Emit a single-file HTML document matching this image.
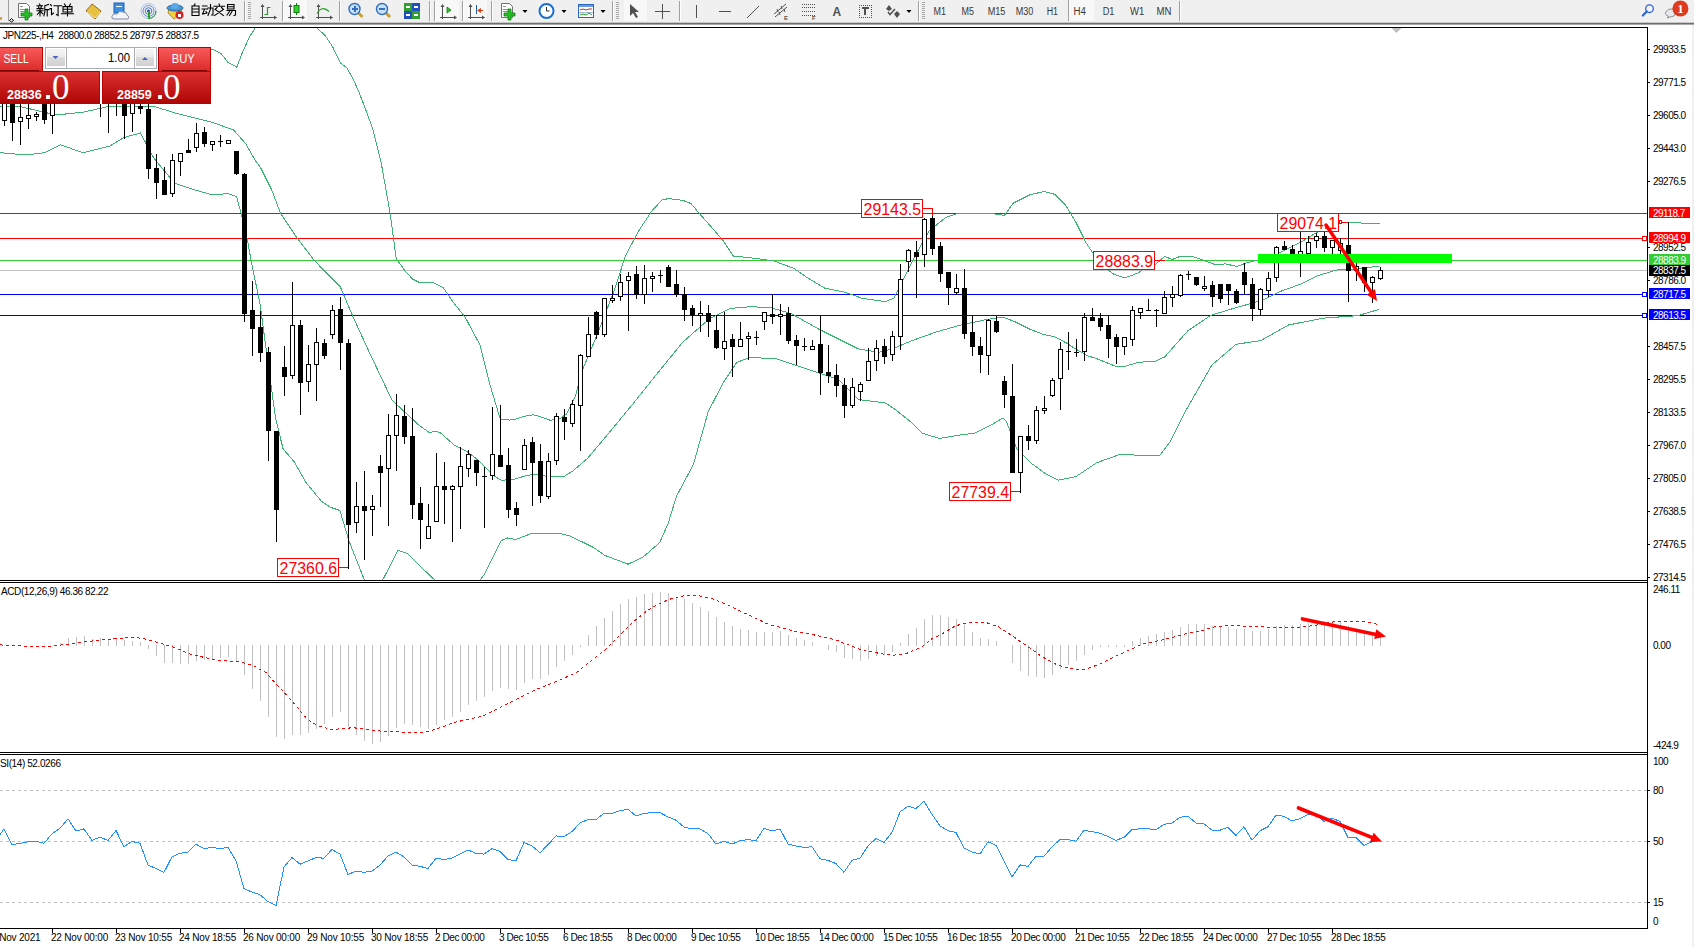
<!DOCTYPE html>
<html><head><meta charset="utf-8">
<style>
html,body{margin:0;padding:0;background:#fff;width:1694px;height:947px;overflow:hidden}
svg{position:absolute;left:0;top:0;display:block}
.ax{font-family:"Liberation Sans", sans-serif;font-size:10px;letter-spacing:-0.5px}
.tm{font-family:"Liberation Sans", sans-serif;font-size:10px;letter-spacing:-0.2px}
.tt{font-family:"Liberation Sans", sans-serif;font-size:10px;letter-spacing:-0.4px}
.lb{font-family:"Liberation Sans", sans-serif;font-size:17px;fill:#ff0000}
.pt{font-family:"Liberation Sans", sans-serif;font-size:13px;fill:#000}
.hd{font-family:"Liberation Sans", sans-serif;font-size:13px;fill:#fff}
.bp{font-family:"Liberation Sans", sans-serif;font-size:12.5px;font-weight:bold;fill:#fff}
.bz{font-family:"Liberation Serif",serif;font-size:35px;fill:#fff}
</style></head><body>
<svg width="1694" height="947" viewBox="0 0 1694 947" shape-rendering="crispEdges">
<defs>
<clipPath id="cm"><rect x="0" y="28" width="1647" height="552"/></clipPath>
<clipPath id="cmacd"><rect x="0" y="583" width="1647" height="169"/></clipPath>
<clipPath id="crsi"><rect x="0" y="755" width="1647" height="173"/></clipPath>
</defs>
<rect x="0" y="0" width="1694" height="23" fill="#f0f0f0"/>
<rect x="0" y="22" width="1694" height="1" fill="#c8c8c8"/>
<rect x="0" y="23" width="1694" height="1" fill="#6e6e6e"/>
<rect x="0" y="24" width="1694" height="1" fill="#a8a8a8"/>
<rect x="0" y="17" width="2" height="3" fill="#e0a040"/>
<rect x="8" y="0" width="1" height="21" fill="#a0a0a0"/>
<polygon points="11.5,18.5 13.5,20.5 11.5,22 9.5,20.5" fill="none" stroke="#000" stroke-width="1" shape-rendering="auto"/>
<path d="M18.5,3.5 h8 l3,3 v11 h-11 z" fill="#fff" stroke="#707070" stroke-width="1" shape-rendering="auto"/>
<rect x="20" y="6" width="3" height="1" fill="#909090"/>
<rect x="20" y="9" width="6" height="1" fill="#909090"/>
<rect x="20" y="11" width="5" height="1" fill="#909090"/>
<path d="M25,9 h3 v4 h4 v3 h-4 v4 h-3 v-4 h-4 v-3 h4 z" fill="#22c022" stroke="#108010" stroke-width="0.8" shape-rendering="auto"/>
<path d="M39.5,4 L40,5 M37,5.8 L42.5,5.8 M38.5,6.8 L39,8 M41.3,6.8 L40.8,8 M37,8.6 L43,8.6 M37,10.8 L43,10.8 M40,8.8 L40,16 M40,11.5 L37.3,14.5 M40.5,11.5 L42.8,13.8 M48.5,4.4 L44.8,5.8 M44.8,5.8 L44.8,12 M44.8,12 L43.8,15.8 M44.8,9.6 L49,9.6 M47.2,9.6 L47.2,16" stroke="#000" stroke-width="1.1" fill="none" shape-rendering="auto" stroke-linecap="square"/>
<path d="M50.5,4.6 L51.5,5.8 M49.9,8.6 L51.5,8.6 M51.5,8.6 L51.5,14.8 M51.5,14.8 L53.5,13 M54.0,5.8 L61.5,5.8 M58.1,5.8 L58.1,15.6 M58.1,15.6 L56.5,14.6" stroke="#000" stroke-width="1.1" fill="none" shape-rendering="auto" stroke-linecap="square"/>
<path d="M64.5,4 L65.5,5.6 M70.5,4 L69.5,5.6 M63.0,6.6 L72.0,6.6 M63.0,6.6 L63.0,12 M72.0,6.6 L72.0,12 M63.0,9.2 L72.0,9.2 M63.0,12 L72.0,12 M67.5,6.6 L67.5,16 M61.5,13.8 L73.5,13.8" stroke="#000" stroke-width="1.1" fill="none" shape-rendering="auto" stroke-linecap="square"/>
<path d="M86,11 L92,4 L101,11 L95,19 Z" fill="#e8c040" stroke="#a06818" stroke-width="1" shape-rendering="auto"/>
<path d="M87,12 L95,18 L100,12" fill="none" stroke="#fff0a0" stroke-width="1" shape-rendering="auto"/>
<rect x="114" y="3" width="10" height="10" fill="#3c8ee0" stroke="#1c5eb0" stroke-width="1" shape-rendering="auto"/>
<rect x="116" y="6" width="6" height="1" fill="#fff"/>
<path d="M114,19 Q111,19 112,16 Q113,13 117,14 Q119,10 123,12 Q127,12 127,15 Q130,16 128,19 Z" fill="#f4f4f8" stroke="#8090a8" stroke-width="1" shape-rendering="auto"/>
<circle cx="148.5" cy="11" r="7.5" fill="none" stroke="#a8c0e8" stroke-width="1" shape-rendering="auto"/>
<circle cx="148.5" cy="11" r="5.5" fill="none" stroke="#6890d8" stroke-width="1" shape-rendering="auto"/>
<circle cx="148.5" cy="11" r="3.3" fill="none" stroke="#4878d0" stroke-width="1" shape-rendering="auto"/>
<path d="M148.5,18.5 A7.5,7.5 0 0 0 156,11" fill="none" stroke="#40a040" stroke-width="1.2" shape-rendering="auto"/>
<circle cx="148.5" cy="11" r="1.6" fill="#2050c0" shape-rendering="auto"/>
<rect x="148" y="11" width="2" height="8" fill="#30a030"/>
<path d="M168,13 L174,19 L182,13 L181,9 L169,9 Z" fill="#f0d040" stroke="#b09020" stroke-width="1" shape-rendering="auto"/>
<ellipse cx="175" cy="8" rx="8" ry="3" fill="#4a98d8" stroke="#2a6aa8" stroke-width="1" shape-rendering="auto"/>
<ellipse cx="175" cy="6" rx="4" ry="3" fill="#5aa8e8" shape-rendering="auto"/>
<circle cx="179.5" cy="15" r="4" fill="#d82020" shape-rendering="auto"/>
<rect x="178" y="13.5" width="3" height="3" fill="#fff"/>
<path d="M195,4 L194,5.6 M192,6 L199,6 M192,6 L192,15.5 M199,6 L199,15.5 M192,9 L199,9 M192,12 L199,12 M192,15.5 L199,15.5" stroke="#000" stroke-width="1.1" fill="none" shape-rendering="auto" stroke-linecap="square"/>
<path d="M202.5,6 L207,6 M202,9 L207.5,9 M204.6,9 L202.6,14 M202.6,14 L207,13 M206,11.5 L206.8,12.8 M208,8 L213,8 M213,8 L213,15 M213,15 L211.6,15 M210.5,4.5 L210.5,9 M210.5,9 L208,15.5" stroke="#000" stroke-width="1.1" fill="none" shape-rendering="auto" stroke-linecap="square"/>
<path d="M219.0,4 L219.5,5.4 M214.0,6.2 L224.5,6.2 M217.0,7.5 L215.0,9.5 M221.5,7.5 L223.5,9.5 M216.0,10 L223.5,15.6 M222.5,10 L214.5,15.6" stroke="#000" stroke-width="1.1" fill="none" shape-rendering="auto" stroke-linecap="square"/>
<path d="M227.5,4.5 L234,4.5 M227.5,4.5 L227.5,9 M234,4.5 L234,9 M227.5,6.8 L234,6.8 M227.5,9 L234,9 M227,10.5 L235.5,10.5 M235.5,10.5 L235.5,15 M235.5,15 L234,15.5 M229.5,11.5 L227,15 M232,11.5 L229.5,15.5" stroke="#000" stroke-width="1.1" fill="none" shape-rendering="auto" stroke-linecap="square"/>
<rect x="244" y="1" width="1" height="20" fill="#a0a0a0"/>
<rect x="245" y="1" width="1" height="20" fill="#ffffff"/>
<rect x="248" y="2" width="3" height="1" fill="#a8a8a8"/>
<rect x="248" y="4" width="3" height="1" fill="#a8a8a8"/>
<rect x="248" y="6" width="3" height="1" fill="#a8a8a8"/>
<rect x="248" y="8" width="3" height="1" fill="#a8a8a8"/>
<rect x="248" y="10" width="3" height="1" fill="#a8a8a8"/>
<rect x="248" y="12" width="3" height="1" fill="#a8a8a8"/>
<rect x="248" y="14" width="3" height="1" fill="#a8a8a8"/>
<rect x="248" y="16" width="3" height="1" fill="#a8a8a8"/>
<rect x="248" y="18" width="3" height="1" fill="#a8a8a8"/>
<rect x="262" y="5" width="1" height="14" fill="#505050"/>
<rect x="260" y="17" width="15" height="1" fill="#505050"/>
<polygon points="260.5,7 264.5,7 262.5,4" fill="#505050" shape-rendering="auto"/>
<polygon points="274,15.5 274,19.5 277,17.5" fill="#505050" shape-rendering="auto"/>
<path d="M264.5,14.5 H267.5 V7.5 H270.5" fill="none" stroke="#20a020" stroke-width="1.2" shape-rendering="auto"/>
<rect x="282" y="1" width="1" height="20" fill="#a0a0a0"/>
<rect x="283" y="1" width="1" height="20" fill="#ffffff"/>
<rect x="284" y="0" width="23" height="21" fill="#f8f8f8"/>
<rect x="290" y="5" width="1" height="14" fill="#505050"/>
<rect x="288" y="17" width="15" height="1" fill="#505050"/>
<polygon points="288.5,7 292.5,7 290.5,4" fill="#505050" shape-rendering="auto"/>
<polygon points="302,15.5 302,19.5 305,17.5" fill="#505050" shape-rendering="auto"/>
<rect x="296" y="3" width="1" height="12" fill="#108010"/>
<rect x="294" y="5.5" width="5" height="7" fill="#30d030" stroke="#108010" stroke-width="1" shape-rendering="auto"/>
<rect x="318" y="5" width="1" height="14" fill="#505050"/>
<rect x="316" y="17" width="15" height="1" fill="#505050"/>
<polygon points="316.5,7 320.5,7 318.5,4" fill="#505050" shape-rendering="auto"/>
<polygon points="330,15.5 330,19.5 333,17.5" fill="#505050" shape-rendering="auto"/>
<path d="M317,13.5 Q322,5 329,11.5" fill="none" stroke="#20a020" stroke-width="1.2" shape-rendering="auto"/>
<rect x="339" y="1" width="1" height="20" fill="#a0a0a0"/>
<rect x="340" y="1" width="1" height="20" fill="#ffffff"/>
<path d="M357.5,12 L362.5,17" stroke="#c8a030" stroke-width="3" shape-rendering="auto"/>
<circle cx="354.5" cy="9" r="5.5" fill="#c8e0f8" stroke="#3070c0" stroke-width="1.4" shape-rendering="auto"/>
<rect x="351.5" y="8" width="6" height="2" fill="#3070c0"/>
<rect x="353.5" y="6" width="2" height="6" fill="#3070c0"/>
<path d="M385,12 L390,17" stroke="#c8a030" stroke-width="3" shape-rendering="auto"/>
<circle cx="382" cy="9" r="5.5" fill="#c8e0f8" stroke="#3070c0" stroke-width="1.4" shape-rendering="auto"/>
<rect x="379" y="8" width="6" height="2" fill="#3070c0"/>
<rect x="404" y="3" width="8" height="8" fill="#30a030"/>
<rect x="406" y="6" width="4" height="2" fill="#fff"/>
<rect x="412" y="3" width="8" height="8" fill="#2050c0"/>
<rect x="414" y="6" width="4" height="2" fill="#fff"/>
<rect x="404" y="11" width="8" height="8" fill="#2050c0"/>
<rect x="406" y="14" width="4" height="2" fill="#fff"/>
<rect x="412" y="11" width="8" height="8" fill="#30a030"/>
<rect x="414" y="14" width="4" height="2" fill="#fff"/>
<rect x="429" y="1" width="1" height="20" fill="#a0a0a0"/>
<rect x="430" y="1" width="1" height="20" fill="#ffffff"/>
<rect x="434" y="1" width="1" height="20" fill="#a0a0a0"/>
<rect x="435" y="1" width="1" height="20" fill="#ffffff"/>
<rect x="436" y="0" width="23" height="21" fill="#f8f8f8"/>
<rect x="442" y="5" width="1" height="14" fill="#505050"/>
<rect x="440" y="17" width="15" height="1" fill="#505050"/>
<polygon points="440.5,7 444.5,7 442.5,4" fill="#505050" shape-rendering="auto"/>
<polygon points="454,15.5 454,19.5 457,17.5" fill="#505050" shape-rendering="auto"/>
<polygon points="447,7 447,13 451,10" fill="#30c030" stroke="#108010" stroke-width="0.8" shape-rendering="auto"/>
<rect x="462" y="1" width="1" height="20" fill="#a0a0a0"/>
<rect x="463" y="1" width="1" height="20" fill="#ffffff"/>
<rect x="464" y="0" width="23" height="21" fill="#f8f8f8"/>
<rect x="470" y="5" width="1" height="14" fill="#505050"/>
<rect x="468" y="17" width="15" height="1" fill="#505050"/>
<polygon points="468.5,7 472.5,7 470.5,4" fill="#505050" shape-rendering="auto"/>
<polygon points="482,15.5 482,19.5 485,17.5" fill="#505050" shape-rendering="auto"/>
<rect x="476" y="5" width="1" height="9" fill="#2060b0"/>
<polygon points="477,10.5 481,8 481,13" fill="#e04010" shape-rendering="auto"/>
<rect x="480" y="10" width="3" height="1" fill="#e04010"/>
<rect x="491" y="1" width="1" height="20" fill="#a0a0a0"/>
<rect x="492" y="1" width="1" height="20" fill="#ffffff"/>
<path d="M501.5,3.5 h8 l3,3 v11 h-11 z" fill="#fff" stroke="#707070" stroke-width="1" shape-rendering="auto"/>
<rect x="503" y="6" width="3" height="1" fill="#909090"/>
<rect x="503" y="9" width="6" height="1" fill="#909090"/>
<rect x="503" y="11" width="5" height="1" fill="#909090"/>
<path d="M508,9 h3 v4 h4 v3 h-4 v4 h-3 v-4 h-4 v-3 h4 z" fill="#22c022" stroke="#108010" stroke-width="0.8" shape-rendering="auto"/>
<polygon points="522.5,10 527.5,10 525,13" fill="#000" shape-rendering="auto"/>
<circle cx="546.5" cy="11" r="7" fill="#fff" stroke="#1a70d0" stroke-width="2" shape-rendering="auto"/>
<path d="M546.5,7 V11 H549.5" fill="none" stroke="#303030" stroke-width="1" shape-rendering="auto"/>
<polygon points="561.5,10 566.5,10 564,13" fill="#000" shape-rendering="auto"/>
<rect x="578.5" y="4.5" width="15" height="13" fill="#fff" stroke="#2a68c0" stroke-width="1" shape-rendering="auto"/>
<rect x="579" y="5" width="14" height="2" fill="#6a9ad8"/>
<path d="M580,10 L583,9 L586,10 L589,9 L592,9" fill="none" stroke="#c03020" stroke-width="1" shape-rendering="auto"/>
<rect x="579" y="12" width="14" height="1" fill="#a0b8e0"/>
<path d="M580,15 L583,14 L586,15 L589,13 L592,15" fill="none" stroke="#20a020" stroke-width="1" shape-rendering="auto"/>
<polygon points="600.5,10 605.5,10 603,13" fill="#000" shape-rendering="auto"/>
<rect x="612" y="1" width="1" height="20" fill="#a0a0a0"/>
<rect x="613" y="1" width="1" height="20" fill="#ffffff"/>
<rect x="616" y="2" width="3" height="1" fill="#a8a8a8"/>
<rect x="616" y="4" width="3" height="1" fill="#a8a8a8"/>
<rect x="616" y="6" width="3" height="1" fill="#a8a8a8"/>
<rect x="616" y="8" width="3" height="1" fill="#a8a8a8"/>
<rect x="616" y="10" width="3" height="1" fill="#a8a8a8"/>
<rect x="616" y="12" width="3" height="1" fill="#a8a8a8"/>
<rect x="616" y="14" width="3" height="1" fill="#a8a8a8"/>
<rect x="616" y="16" width="3" height="1" fill="#a8a8a8"/>
<rect x="616" y="18" width="3" height="1" fill="#a8a8a8"/>
<rect x="624" y="0" width="23" height="21" fill="#f8f8f8"/>
<path d="M630,4 L630,16 L633,13 L636,18 L638,17 L635,12 L639,12 Z" fill="#505050" shape-rendering="auto"/>
<rect x="655" y="11" width="15" height="1" fill="#505050"/>
<rect x="662" y="4" width="1" height="15" fill="#505050"/>
<rect x="679" y="1" width="1" height="20" fill="#a0a0a0"/>
<rect x="680" y="1" width="1" height="20" fill="#ffffff"/>
<rect x="696" y="5" width="1" height="13" fill="#505050"/>
<rect x="719" y="11" width="12" height="1" fill="#505050"/>
<path d="M747,18 L759,6" stroke="#505050" stroke-width="1" shape-rendering="auto"/>
<path d="M774,14 L786,4 M775,17 L787,7 M777,9 L778,12 M781,6 L782,9 M779,12 L780,15 M784,9 L785,12" stroke="#505050" stroke-width="1" fill="none" shape-rendering="auto"/>
<text x="784" y="19.5" style="font-family:Liberation Sans,sans-serif;font-size:6px;font-weight:bold;fill:#505050">E</text>
<rect x="802" y="4" width="1" height="1" fill="#505050"/>
<rect x="804" y="4" width="1" height="1" fill="#505050"/>
<rect x="806" y="4" width="1" height="1" fill="#505050"/>
<rect x="808" y="4" width="1" height="1" fill="#505050"/>
<rect x="810" y="4" width="1" height="1" fill="#505050"/>
<rect x="812" y="4" width="1" height="1" fill="#505050"/>
<rect x="814" y="4" width="1" height="1" fill="#505050"/>
<rect x="802" y="7" width="1" height="1" fill="#505050"/>
<rect x="804" y="7" width="1" height="1" fill="#505050"/>
<rect x="806" y="7" width="1" height="1" fill="#505050"/>
<rect x="808" y="7" width="1" height="1" fill="#505050"/>
<rect x="810" y="7" width="1" height="1" fill="#505050"/>
<rect x="812" y="7" width="1" height="1" fill="#505050"/>
<rect x="814" y="7" width="1" height="1" fill="#505050"/>
<rect x="802" y="11" width="1" height="1" fill="#505050"/>
<rect x="804" y="11" width="1" height="1" fill="#505050"/>
<rect x="806" y="11" width="1" height="1" fill="#505050"/>
<rect x="808" y="11" width="1" height="1" fill="#505050"/>
<rect x="810" y="11" width="1" height="1" fill="#505050"/>
<rect x="812" y="11" width="1" height="1" fill="#505050"/>
<rect x="814" y="11" width="1" height="1" fill="#505050"/>
<rect x="802" y="15" width="1" height="1" fill="#505050"/>
<rect x="804" y="15" width="1" height="1" fill="#505050"/>
<rect x="806" y="15" width="1" height="1" fill="#505050"/>
<rect x="808" y="15" width="1" height="1" fill="#505050"/>
<rect x="810" y="15" width="1" height="1" fill="#505050"/>
<rect x="812" y="15" width="1" height="1" fill="#505050"/>
<rect x="814" y="15" width="1" height="1" fill="#505050"/>
<text x="812" y="20" style="font-family:Liberation Sans,sans-serif;font-size:6px;font-weight:bold;fill:#505050">F</text>
<text x="832.5" y="16" style="font-family:Liberation Sans,sans-serif;font-size:12px;font-weight:bold;fill:#505050">A</text>
<rect x="859" y="5" width="1" height="1" fill="#505050"/><rect x="859" y="17" width="1" height="1" fill="#505050"/>
<rect x="861" y="5" width="1" height="1" fill="#505050"/><rect x="861" y="17" width="1" height="1" fill="#505050"/>
<rect x="863" y="5" width="1" height="1" fill="#505050"/><rect x="863" y="17" width="1" height="1" fill="#505050"/>
<rect x="865" y="5" width="1" height="1" fill="#505050"/><rect x="865" y="17" width="1" height="1" fill="#505050"/>
<rect x="867" y="5" width="1" height="1" fill="#505050"/><rect x="867" y="17" width="1" height="1" fill="#505050"/>
<rect x="869" y="5" width="1" height="1" fill="#505050"/><rect x="869" y="17" width="1" height="1" fill="#505050"/>
<rect x="871" y="5" width="1" height="1" fill="#505050"/><rect x="871" y="17" width="1" height="1" fill="#505050"/>
<rect x="859" y="5" width="1" height="1" fill="#505050"/><rect x="871" y="5" width="1" height="1" fill="#505050"/>
<rect x="859" y="7" width="1" height="1" fill="#505050"/><rect x="871" y="7" width="1" height="1" fill="#505050"/>
<rect x="859" y="9" width="1" height="1" fill="#505050"/><rect x="871" y="9" width="1" height="1" fill="#505050"/>
<rect x="859" y="11" width="1" height="1" fill="#505050"/><rect x="871" y="11" width="1" height="1" fill="#505050"/>
<rect x="859" y="13" width="1" height="1" fill="#505050"/><rect x="871" y="13" width="1" height="1" fill="#505050"/>
<rect x="859" y="15" width="1" height="1" fill="#505050"/><rect x="871" y="15" width="1" height="1" fill="#505050"/>
<rect x="859" y="17" width="1" height="1" fill="#505050"/><rect x="871" y="17" width="1" height="1" fill="#505050"/>
<rect x="862" y="7" width="7" height="2" fill="#505050"/><rect x="864" y="7" width="2" height="8" fill="#505050"/>
<polygon points="886,9 889,5 892,9 889,11" fill="#505050" shape-rendering="auto"/>
<path d="M888,12 L890,14.5 L895,9" stroke="#505050" stroke-width="1.5" fill="none" shape-rendering="auto"/>
<polygon points="894,14 897,11 900,14 897,18" fill="#505050" shape-rendering="auto"/>
<polygon points="906.5,10 911.5,10 909,13" fill="#000" shape-rendering="auto"/>
<rect x="918" y="1" width="1" height="20" fill="#a0a0a0"/>
<rect x="919" y="1" width="1" height="20" fill="#ffffff"/>
<rect x="922" y="2" width="3" height="1" fill="#a8a8a8"/>
<rect x="922" y="4" width="3" height="1" fill="#a8a8a8"/>
<rect x="922" y="6" width="3" height="1" fill="#a8a8a8"/>
<rect x="922" y="8" width="3" height="1" fill="#a8a8a8"/>
<rect x="922" y="10" width="3" height="1" fill="#a8a8a8"/>
<rect x="922" y="12" width="3" height="1" fill="#a8a8a8"/>
<rect x="922" y="14" width="3" height="1" fill="#a8a8a8"/>
<rect x="922" y="16" width="3" height="1" fill="#a8a8a8"/>
<rect x="922" y="18" width="3" height="1" fill="#a8a8a8"/>
<text x="933.5" y="15" textLength="12.5" lengthAdjust="spacingAndGlyphs" style="font-family:Liberation Sans,sans-serif;font-size:10px;fill:#383838">M1</text>
<text x="961.5" y="15" textLength="12.5" lengthAdjust="spacingAndGlyphs" style="font-family:Liberation Sans,sans-serif;font-size:10px;fill:#383838">M5</text>
<text x="987.7" y="15" textLength="17.7" lengthAdjust="spacingAndGlyphs" style="font-family:Liberation Sans,sans-serif;font-size:10px;fill:#383838">M15</text>
<text x="1015.7" y="15" textLength="17.6" lengthAdjust="spacingAndGlyphs" style="font-family:Liberation Sans,sans-serif;font-size:10px;fill:#383838">M30</text>
<text x="1046.7" y="15" textLength="11.4" lengthAdjust="spacingAndGlyphs" style="font-family:Liberation Sans,sans-serif;font-size:10px;fill:#383838">H1</text>
<rect x="1068" y="0" width="1" height="21" fill="#a0a0a0"/>
<rect x="1069" y="0" width="25" height="21" fill="#f8f8f8"/>
<text x="1073.6" y="15" textLength="12.4" lengthAdjust="spacingAndGlyphs" style="font-family:Liberation Sans,sans-serif;font-size:10px;fill:#383838">H4</text>
<text x="1102.7" y="15" textLength="11.8" lengthAdjust="spacingAndGlyphs" style="font-family:Liberation Sans,sans-serif;font-size:10px;fill:#383838">D1</text>
<text x="1130" y="15" textLength="14.2" lengthAdjust="spacingAndGlyphs" style="font-family:Liberation Sans,sans-serif;font-size:10px;fill:#383838">W1</text>
<text x="1156.6" y="15" textLength="14.9" lengthAdjust="spacingAndGlyphs" style="font-family:Liberation Sans,sans-serif;font-size:10px;fill:#383838">MN</text>
<rect x="1179" y="1" width="1" height="20" fill="#a0a0a0"/>
<rect x="1180" y="1" width="1" height="20" fill="#ffffff"/>
<circle cx="1649.5" cy="8.7" r="3.8" fill="#f4f4ff" stroke="#2a62d0" stroke-width="1.3" shape-rendering="auto"/>
<path d="M1646.8,11.5 L1642.8,15.5" stroke="#2a62d0" stroke-width="2.2" stroke-linecap="round" shape-rendering="auto"/>
<path d="M1667,18 L1669,16.5 Q1664,15 1666,11.5 Q1668,8.5 1672,9 Q1676,9.5 1676,13 Q1675,17 1670,17 Z" fill="#e8e8f0" stroke="#909090" stroke-width="1" shape-rendering="auto"/>
<circle cx="1680.4" cy="8.5" r="8" fill="#e03a1e" shape-rendering="auto"/>
<text x="1680.4" y="13" text-anchor="middle" style="font-family:Liberation Serif,serif;font-size:12px;font-weight:bold;fill:#fff">1</text>
<rect x="0" y="27" width="1648" height="1" fill="#000"/>
<rect x="1647" y="27" width="1" height="902" fill="#000"/>
<rect x="0" y="580" width="1648" height="1" fill="#000"/>
<rect x="0" y="582" width="1648" height="1" fill="#000"/>
<rect x="0" y="752" width="1648" height="1" fill="#000"/>
<rect x="0" y="754" width="1648" height="1" fill="#000"/>
<rect x="0" y="928" width="1648" height="1" fill="#000"/>
<rect x="1692" y="25" width="2" height="922" fill="#f0f0f0"/>
<polygon points="1392,28 1401,28 1396.5,33" fill="#c0c0c0"/>
<rect x="1648" y="49" width="2" height="1" fill="#000"/>
<text x="1653" y="53" class="ax">29933.5</text>
<rect x="1648" y="82" width="2" height="1" fill="#000"/>
<text x="1653" y="86" class="ax">29771.5</text>
<rect x="1648" y="115" width="2" height="1" fill="#000"/>
<text x="1653" y="119" class="ax">29605.0</text>
<rect x="1648" y="148" width="2" height="1" fill="#000"/>
<text x="1653" y="152" class="ax">29443.0</text>
<rect x="1648" y="181" width="2" height="1" fill="#000"/>
<text x="1653" y="185" class="ax">29276.5</text>
<rect x="1648" y="247" width="2" height="1" fill="#000"/>
<text x="1653" y="251" class="ax">28952.5</text>
<rect x="1648" y="280" width="2" height="1" fill="#000"/>
<text x="1653" y="284" class="ax">28786.0</text>
<rect x="1648" y="346" width="2" height="1" fill="#000"/>
<text x="1653" y="350" class="ax">28457.5</text>
<rect x="1648" y="379" width="2" height="1" fill="#000"/>
<text x="1653" y="383" class="ax">28295.5</text>
<rect x="1648" y="412" width="2" height="1" fill="#000"/>
<text x="1653" y="416" class="ax">28133.5</text>
<rect x="1648" y="445" width="2" height="1" fill="#000"/>
<text x="1653" y="449" class="ax">27967.0</text>
<rect x="1648" y="478" width="2" height="1" fill="#000"/>
<text x="1653" y="482" class="ax">27805.0</text>
<rect x="1648" y="511" width="2" height="1" fill="#000"/>
<text x="1653" y="515" class="ax">27638.5</text>
<rect x="1648" y="544" width="2" height="1" fill="#000"/>
<text x="1653" y="548" class="ax">27476.5</text>
<rect x="1648" y="577" width="2" height="1" fill="#000"/>
<text x="1653" y="581" class="ax">27314.5</text>
<rect x="1649" y="207" width="41" height="11" fill="#ff0000"/>
<text x="1653" y="217" class="ax" style="fill:#fff">29118.7</text>
<rect x="1649" y="232" width="41" height="11" fill="#ff0000"/>
<text x="1653" y="242" class="ax" style="fill:#fff">28994.9</text>
<rect x="1649" y="254" width="41" height="11" fill="#32cd32"/>
<text x="1653" y="264" class="ax" style="fill:#fff">28883.9</text>
<rect x="1649" y="265" width="41" height="11" fill="#000"/>
<text x="1653" y="274" class="ax" style="fill:#fff">28837.5</text>
<rect x="1649" y="288" width="41" height="11" fill="#0000ff"/>
<text x="1653" y="298" class="ax" style="fill:#fff">28717.5</text>
<rect x="1649" y="309" width="41" height="11" fill="#0000ff"/>
<text x="1653" y="319" class="ax" style="fill:#fff">28613.5</text>
<text x="1653" y="593.3" class="ax">246.11</text>
<text x="1653" y="649.1" class="ax">0.00</text>
<text x="1653" y="749.0" class="ax">-424.9</text>
<text x="1653" y="765.2" class="ax">100</text>
<text x="1653" y="794.2" class="ax">80</text>
<text x="1653" y="844.7" class="ax">50</text>
<text x="1653" y="905.9" class="ax">15</text>
<text x="1653" y="925.2" class="ax">0</text>
<rect x="1648" y="790" width="2" height="1" fill="#000"/>
<rect x="1648" y="841" width="2" height="1" fill="#000"/>
<rect x="1648" y="902" width="2" height="1" fill="#000"/>
<text x="-14.1" y="941" class="tm">19 Nov 2021</text>
<rect x="52" y="929" width="1" height="4" fill="#000"/>
<text x="51" y="941" class="tm" textLength="57" lengthAdjust="spacing">22 Nov 00:00</text>
<rect x="116" y="929" width="1" height="4" fill="#000"/>
<text x="115" y="941" class="tm" textLength="57" lengthAdjust="spacing">23 Nov 10:55</text>
<rect x="180" y="929" width="1" height="4" fill="#000"/>
<text x="179" y="941" class="tm" textLength="57" lengthAdjust="spacing">24 Nov 18:55</text>
<rect x="244" y="929" width="1" height="4" fill="#000"/>
<text x="243" y="941" class="tm" textLength="57" lengthAdjust="spacing">26 Nov 00:00</text>
<rect x="308" y="929" width="1" height="4" fill="#000"/>
<text x="307" y="941" class="tm" textLength="57" lengthAdjust="spacing">29 Nov 10:55</text>
<rect x="372" y="929" width="1" height="4" fill="#000"/>
<text x="371" y="941" class="tm" textLength="57" lengthAdjust="spacing">30 Nov 18:55</text>
<rect x="436" y="929" width="1" height="4" fill="#000"/>
<text x="435" y="941" class="tm" textLength="49.5" lengthAdjust="spacing">2 Dec 00:00</text>
<rect x="500" y="929" width="1" height="4" fill="#000"/>
<text x="499" y="941" class="tm" textLength="49.5" lengthAdjust="spacing">3 Dec 10:55</text>
<rect x="564" y="929" width="1" height="4" fill="#000"/>
<text x="563" y="941" class="tm" textLength="49.5" lengthAdjust="spacing">6 Dec 18:55</text>
<rect x="628" y="929" width="1" height="4" fill="#000"/>
<text x="627" y="941" class="tm" textLength="49.5" lengthAdjust="spacing">8 Dec 00:00</text>
<rect x="692" y="929" width="1" height="4" fill="#000"/>
<text x="691" y="941" class="tm" textLength="49.5" lengthAdjust="spacing">9 Dec 10:55</text>
<rect x="756" y="929" width="1" height="4" fill="#000"/>
<text x="755" y="941" class="tm" textLength="54.5" lengthAdjust="spacing">10 Dec 18:55</text>
<rect x="820" y="929" width="1" height="4" fill="#000"/>
<text x="819" y="941" class="tm" textLength="54.5" lengthAdjust="spacing">14 Dec 00:00</text>
<rect x="884" y="929" width="1" height="4" fill="#000"/>
<text x="883" y="941" class="tm" textLength="54.5" lengthAdjust="spacing">15 Dec 10:55</text>
<rect x="948" y="929" width="1" height="4" fill="#000"/>
<text x="947" y="941" class="tm" textLength="54.5" lengthAdjust="spacing">16 Dec 18:55</text>
<rect x="1012" y="929" width="1" height="4" fill="#000"/>
<text x="1011" y="941" class="tm" textLength="54.5" lengthAdjust="spacing">20 Dec 00:00</text>
<rect x="1076" y="929" width="1" height="4" fill="#000"/>
<text x="1075" y="941" class="tm" textLength="54.5" lengthAdjust="spacing">21 Dec 10:55</text>
<rect x="1140" y="929" width="1" height="4" fill="#000"/>
<text x="1139" y="941" class="tm" textLength="54.5" lengthAdjust="spacing">22 Dec 18:55</text>
<rect x="1204" y="929" width="1" height="4" fill="#000"/>
<text x="1203" y="941" class="tm" textLength="54.5" lengthAdjust="spacing">24 Dec 00:00</text>
<rect x="1268" y="929" width="1" height="4" fill="#000"/>
<text x="1267" y="941" class="tm" textLength="54.5" lengthAdjust="spacing">27 Dec 10:55</text>
<rect x="1332" y="929" width="1" height="4" fill="#000"/>
<text x="1331" y="941" class="tm" textLength="54.5" lengthAdjust="spacing">28 Dec 18:55</text>
<g clip-path="url(#cm)">
<rect x="0" y="213" width="1647" height="1" fill="#ff0000"/>
<rect x="0" y="238" width="1647" height="1" fill="#ff0000"/>
<rect x="0" y="260" width="1647" height="1" fill="#32cd32"/>
<rect x="0" y="270" width="1647" height="1" fill="#c0c0c0"/>
<rect x="0" y="294" width="1647" height="1" fill="#0000ff"/>
<rect x="0" y="315" width="1647" height="1" fill="#0000ff"/>
<rect x="1642.5" y="236.5" width="4" height="4" fill="#fff" stroke="#ff0000" stroke-width="1" shape-rendering="auto"/>
<rect x="1642.5" y="292.5" width="4" height="4" fill="#fff" stroke="#0000ff" stroke-width="1" shape-rendering="auto"/>
<rect x="1642.5" y="313.5" width="4" height="4" fill="#fff" stroke="#0000ff" stroke-width="1" shape-rendering="auto"/>
<polyline points="180.0,60.0 212.0,48.9 220.8,53.3 227.9,62.2 236.8,67.1 242.1,53.3 249.2,37.4 255.4,27.7 262.0,12.0" fill="none" stroke="#3cb371" stroke-width="1"/>
<polyline points="310.0,12.0 316.5,27.7 325.3,35.6 332.4,46.3 340.4,63.1 346.6,67.5 353.6,79.9 359.0,92.3 365.2,108.2 372.6,128.5 381.4,164.0 390.3,214.2 396.2,258.6 404.8,270.5 412.5,279.0 420.0,282.8 426.0,282.4 434.0,283.0 443.0,287.4 453.2,302.2 465.4,317.6 480.0,345.0 490.0,385.0 500.2,419.0 509.7,420.1 516.0,419.0 524.5,416.3 533.0,414.8 541.4,417.0 549.8,420.1 558.3,419.7 566.7,413.8 575.2,396.9 581.4,372.6 598.2,332.0 615.1,288.1 625.3,256.0 638.8,230.7 652.3,210.4 662.4,199.6 669.2,198.6 682.7,200.3 691.1,203.6 699.6,213.8 713.1,229.0 723.2,240.8 733.4,256.0 750.3,257.7 773.9,261.0 794.2,268.5 807.7,278.0 824.6,288.1 844.9,292.2 861.8,298.2 885.4,301.6 893.9,298.2 902.3,281.4 915.8,254.3 929.3,230.7 946.2,217.2 956.3,213.8 992.3,213.6 1004.5,215.3 1013.2,203.1 1030.6,194.4 1044.5,191.6 1055.0,194.4 1065.4,204.8 1075.9,222.3 1086.3,243.2 1100.3,264.0 1114.2,274.5 1124.7,278.0 1138.6,272.8 1149.0,264.0 1156.0,264.0 1164.6,256.4 1172.2,259.5 1180.0,256.4 1192.0,256.4 1201.4,259.5 1213.7,264.1 1226.0,264.0 1236.7,266.4 1247.4,262.6 1258.0,260.0 1270.0,257.0 1288.5,248.4 1302.4,241.4 1316.3,232.7 1326.8,227.5 1342.6,222.2 1370.0,223.4 1380.0,224.0" fill="none" stroke="#3cb371" stroke-width="1"/>
<polyline points="0.0,106.0 17.7,106.0 56.0,115.0 82.8,112.2 109.4,106.3 153.8,106.3 177.4,113.7 195.2,118.0 213.0,122.6 233.6,130.0 245.4,143.3 255.0,160.0 260.2,167.0 272.0,190.6 280.5,213.4 297.4,238.4 314.3,260.5 340.4,287.0 348.0,305.0 352.0,314.5 367.4,348.2 392.0,400.2 418.7,425.0 429.4,432.6 435.6,431.1 440.2,432.6 454.0,444.9 466.2,451.0 475.5,458.0 484.0,466.0 492.8,475.0 501.2,480.3 513.9,479.3 524.5,476.1 535.0,474.0 545.6,476.1 564.6,476.1 573.0,470.8 587.8,458.1 609.0,432.8 630.0,407.5 651.2,381.0 682.7,342.2 709.7,318.5 730.0,308.4 750.3,306.7 770.5,307.7 790.8,313.4 817.8,328.6 841.5,340.5 858.4,348.9 878.6,352.3 892.2,348.9 912.4,340.5 936.1,332.0 959.7,325.3 985.3,319.8 1002.7,317.0 1014.4,321.5 1029.8,329.2 1043.6,334.5 1054.3,336.8 1066.6,343.0 1075.8,349.1 1088.1,356.0 1095.8,358.3 1115.7,366.3 1124.9,366.3 1138.7,362.2 1155.6,361.4 1164.8,356.8 1187.9,330.7 1210.9,315.3 1236.2,307.6 1262.7,300.2 1279.6,291.7 1300.7,284.1 1317.6,275.7 1338.7,269.4 1349.7,269.4 1359.8,268.5 1379.3,266.2" fill="none" stroke="#3cb371" stroke-width="1"/>
<polyline points="0.0,152.7 26.6,155.0 44.4,152.7 60.6,144.8 82.8,152.7 109.4,146.2 124.2,137.4 140.4,133.0 153.8,158.0 174.5,183.2 192.2,189.1 212.9,195.0 227.7,193.5 236.5,196.5 245.4,229.0 251.3,261.5 260.2,305.0 266.4,351.2 275.6,418.6 283.2,449.2 294.0,461.5 306.2,482.9 321.5,501.3 330.7,507.4 339.9,510.5 349.0,541.0 364.4,580.0 370.0,595.0 375.0,595.0 382.7,580.0 398.0,550.3 407.2,553.3 420.0,566.0 434.8,580.0 440.0,590.0 475.0,590.0 480.1,580.0 484.4,574.3 492.8,557.4 501.2,540.5 507.6,538.0 516.0,539.5 530.8,533.7 541.4,533.7 558.3,533.1 570.9,536.3 583.6,542.6 594.2,547.9 604.7,555.3 628.0,564.2 642.7,557.4 659.6,542.6 668.1,523.6 676.5,496.2 693.4,464.5 708.2,411.7 723.2,382.7 736.8,362.4 750.3,357.4 777.3,359.0 797.6,365.8 817.8,372.6 838.1,379.3 858.4,399.6 885.4,403.0 895.5,409.7 912.4,423.2 922.6,433.4 939.5,438.4 959.7,435.0 974.8,433.1 992.3,424.4 1002.7,418.1 1006.2,420.9 1016.7,448.7 1030.6,462.7 1044.5,473.1 1058.5,480.1 1075.9,476.6 1096.8,462.7 1121.2,454.0 1142.1,455.7 1159.5,455.7 1170.0,441.8 1183.9,413.9 1211.8,365.1 1236.2,344.2 1260.6,340.7 1288.5,325.0 1323.3,318.1 1358.1,315.6 1379.0,309.4" fill="none" stroke="#3cb371" stroke-width="1"/>
<rect x="4" y="95" width="1" height="31" fill="#000"/>
<rect x="2" y="100" width="5" height="21" fill="#000"/>
<rect x="3" y="101" width="3" height="19" fill="#fff"/>
<rect x="12" y="95" width="1" height="46" fill="#000"/>
<rect x="10" y="100" width="5" height="23" fill="#000"/>
<rect x="20" y="104" width="1" height="41" fill="#000"/>
<rect x="18" y="117" width="5" height="5" fill="#000"/>
<rect x="19" y="118" width="3" height="3" fill="#fff"/>
<rect x="28" y="104" width="1" height="25" fill="#000"/>
<rect x="26" y="115" width="5" height="4" fill="#000"/>
<rect x="27" y="116" width="3" height="2" fill="#fff"/>
<rect x="36" y="112" width="1" height="9" fill="#000"/>
<rect x="34" y="114" width="5" height="3" fill="#000"/>
<rect x="35" y="115" width="3" height="1" fill="#fff"/>
<rect x="44" y="95" width="1" height="29" fill="#000"/>
<rect x="42" y="100" width="5" height="20" fill="#000"/>
<rect x="52" y="95" width="1" height="39" fill="#000"/>
<rect x="50" y="100" width="5" height="16" fill="#000"/>
<rect x="51" y="101" width="3" height="14" fill="#fff"/>
<rect x="100" y="95" width="1" height="22" fill="#000"/>
<rect x="98" y="95" width="5" height="9" fill="#000"/>
<rect x="108" y="95" width="1" height="38" fill="#000"/>
<rect x="106" y="95" width="5" height="9" fill="#000"/>
<rect x="116" y="95" width="1" height="21" fill="#000"/>
<rect x="114" y="95" width="5" height="9" fill="#000"/>
<rect x="124" y="95" width="1" height="44" fill="#000"/>
<rect x="122" y="98" width="5" height="18" fill="#000"/>
<rect x="132" y="95" width="1" height="37" fill="#000"/>
<rect x="130" y="98" width="5" height="16" fill="#000"/>
<rect x="131" y="99" width="3" height="14" fill="#fff"/>
<rect x="140" y="104" width="1" height="10" fill="#000"/>
<rect x="138" y="106" width="5" height="3" fill="#000"/>
<rect x="148" y="104" width="1" height="75" fill="#000"/>
<rect x="146" y="109" width="5" height="60" fill="#000"/>
<rect x="156" y="154" width="1" height="45" fill="#000"/>
<rect x="154" y="168" width="5" height="15" fill="#000"/>
<rect x="164" y="167" width="1" height="28" fill="#000"/>
<rect x="162" y="180" width="5" height="15" fill="#000"/>
<rect x="172" y="154" width="1" height="43" fill="#000"/>
<rect x="170" y="160" width="5" height="34" fill="#000"/>
<rect x="171" y="161" width="3" height="32" fill="#fff"/>
<rect x="180" y="153" width="1" height="23" fill="#000"/>
<rect x="178" y="153" width="5" height="9" fill="#000"/>
<rect x="179" y="154" width="3" height="7" fill="#fff"/>
<rect x="188" y="139" width="1" height="14" fill="#000"/>
<rect x="186" y="150" width="5" height="3" fill="#000"/>
<rect x="196" y="123" width="1" height="29" fill="#000"/>
<rect x="194" y="133" width="5" height="15" fill="#000"/>
<rect x="195" y="134" width="3" height="13" fill="#fff"/>
<rect x="204" y="127" width="1" height="20" fill="#000"/>
<rect x="202" y="132" width="5" height="12" fill="#000"/>
<rect x="212" y="141" width="1" height="10" fill="#000"/>
<rect x="210" y="141" width="5" height="4" fill="#000"/>
<rect x="211" y="142" width="3" height="2" fill="#fff"/>
<rect x="220" y="135" width="1" height="12" fill="#000"/>
<rect x="218" y="141" width="5" height="1" fill="#000"/>
<rect x="228" y="140" width="1" height="4" fill="#000"/>
<rect x="226" y="140" width="5" height="4" fill="#000"/>
<rect x="227" y="141" width="3" height="2" fill="#fff"/>
<rect x="236" y="151" width="1" height="24" fill="#000"/>
<rect x="234" y="151" width="5" height="23" fill="#000"/>
<rect x="244" y="173" width="1" height="149" fill="#000"/>
<rect x="242" y="174" width="5" height="140" fill="#000"/>
<rect x="252" y="281" width="1" height="75" fill="#000"/>
<rect x="250" y="310" width="5" height="19" fill="#000"/>
<rect x="260" y="311" width="1" height="51" fill="#000"/>
<rect x="258" y="327" width="5" height="26" fill="#000"/>
<rect x="268" y="347" width="1" height="114" fill="#000"/>
<rect x="266" y="352" width="5" height="79" fill="#000"/>
<rect x="276" y="431" width="1" height="111" fill="#000"/>
<rect x="274" y="431" width="5" height="79" fill="#000"/>
<rect x="284" y="346" width="1" height="50" fill="#000"/>
<rect x="282" y="367" width="5" height="10" fill="#000"/>
<rect x="292" y="282" width="1" height="97" fill="#000"/>
<rect x="290" y="325" width="5" height="51" fill="#000"/>
<rect x="291" y="326" width="3" height="49" fill="#fff"/>
<rect x="300" y="320" width="1" height="95" fill="#000"/>
<rect x="298" y="325" width="5" height="58" fill="#000"/>
<rect x="308" y="345" width="1" height="47" fill="#000"/>
<rect x="306" y="364" width="5" height="18" fill="#000"/>
<rect x="307" y="365" width="3" height="16" fill="#fff"/>
<rect x="316" y="328" width="1" height="73" fill="#000"/>
<rect x="314" y="342" width="5" height="23" fill="#000"/>
<rect x="315" y="343" width="3" height="21" fill="#fff"/>
<rect x="324" y="339" width="1" height="20" fill="#000"/>
<rect x="322" y="343" width="5" height="13" fill="#000"/>
<rect x="332" y="305" width="1" height="34" fill="#000"/>
<rect x="330" y="310" width="5" height="25" fill="#000"/>
<rect x="331" y="311" width="3" height="23" fill="#fff"/>
<rect x="340" y="297" width="1" height="73" fill="#000"/>
<rect x="338" y="309" width="5" height="34" fill="#000"/>
<rect x="348" y="339" width="1" height="230" fill="#000"/>
<rect x="346" y="343" width="5" height="182" fill="#000"/>
<rect x="356" y="482" width="1" height="51" fill="#000"/>
<rect x="354" y="506" width="5" height="17" fill="#000"/>
<rect x="355" y="507" width="3" height="15" fill="#fff"/>
<rect x="364" y="471" width="1" height="89" fill="#000"/>
<rect x="362" y="506" width="5" height="5" fill="#000"/>
<rect x="372" y="495" width="1" height="41" fill="#000"/>
<rect x="370" y="506" width="5" height="4" fill="#000"/>
<rect x="371" y="507" width="3" height="2" fill="#fff"/>
<rect x="380" y="455" width="1" height="52" fill="#000"/>
<rect x="378" y="466" width="5" height="7" fill="#000"/>
<rect x="388" y="414" width="1" height="112" fill="#000"/>
<rect x="386" y="435" width="5" height="34" fill="#000"/>
<rect x="387" y="436" width="3" height="32" fill="#fff"/>
<rect x="396" y="394" width="1" height="77" fill="#000"/>
<rect x="394" y="415" width="5" height="21" fill="#000"/>
<rect x="395" y="416" width="3" height="19" fill="#fff"/>
<rect x="404" y="405" width="1" height="39" fill="#000"/>
<rect x="402" y="416" width="5" height="21" fill="#000"/>
<rect x="412" y="408" width="1" height="111" fill="#000"/>
<rect x="410" y="436" width="5" height="69" fill="#000"/>
<rect x="420" y="487" width="1" height="62" fill="#000"/>
<rect x="418" y="503" width="5" height="17" fill="#000"/>
<rect x="428" y="504" width="1" height="35" fill="#000"/>
<rect x="426" y="526" width="5" height="13" fill="#000"/>
<rect x="427" y="527" width="3" height="11" fill="#fff"/>
<rect x="436" y="453" width="1" height="69" fill="#000"/>
<rect x="434" y="486" width="5" height="36" fill="#000"/>
<rect x="435" y="487" width="3" height="34" fill="#fff"/>
<rect x="444" y="462" width="1" height="62" fill="#000"/>
<rect x="442" y="486" width="5" height="4" fill="#000"/>
<rect x="452" y="485" width="1" height="57" fill="#000"/>
<rect x="450" y="486" width="5" height="4" fill="#000"/>
<rect x="451" y="487" width="3" height="2" fill="#fff"/>
<rect x="460" y="447" width="1" height="82" fill="#000"/>
<rect x="458" y="466" width="5" height="21" fill="#000"/>
<rect x="459" y="467" width="3" height="19" fill="#fff"/>
<rect x="468" y="450" width="1" height="27" fill="#000"/>
<rect x="466" y="454" width="5" height="15" fill="#000"/>
<rect x="467" y="455" width="3" height="13" fill="#fff"/>
<rect x="476" y="460" width="1" height="26" fill="#000"/>
<rect x="474" y="460" width="5" height="13" fill="#000"/>
<rect x="484" y="467" width="1" height="61" fill="#000"/>
<rect x="482" y="476" width="5" height="1" fill="#000"/>
<rect x="492" y="407" width="1" height="73" fill="#000"/>
<rect x="490" y="454" width="5" height="22" fill="#000"/>
<rect x="491" y="455" width="3" height="20" fill="#fff"/>
<rect x="500" y="405" width="1" height="62" fill="#000"/>
<rect x="498" y="455" width="5" height="12" fill="#000"/>
<rect x="508" y="448" width="1" height="70" fill="#000"/>
<rect x="506" y="465" width="5" height="45" fill="#000"/>
<rect x="516" y="502" width="1" height="24" fill="#000"/>
<rect x="514" y="508" width="5" height="7" fill="#000"/>
<rect x="524" y="439" width="1" height="31" fill="#000"/>
<rect x="522" y="445" width="5" height="25" fill="#000"/>
<rect x="523" y="446" width="3" height="23" fill="#fff"/>
<rect x="532" y="437" width="1" height="69" fill="#000"/>
<rect x="530" y="442" width="5" height="21" fill="#000"/>
<rect x="540" y="444" width="1" height="59" fill="#000"/>
<rect x="538" y="461" width="5" height="35" fill="#000"/>
<rect x="548" y="453" width="1" height="46" fill="#000"/>
<rect x="546" y="461" width="5" height="36" fill="#000"/>
<rect x="547" y="462" width="3" height="34" fill="#fff"/>
<rect x="556" y="413" width="1" height="52" fill="#000"/>
<rect x="554" y="416" width="5" height="45" fill="#000"/>
<rect x="555" y="417" width="3" height="43" fill="#fff"/>
<rect x="564" y="409" width="1" height="31" fill="#000"/>
<rect x="562" y="417" width="5" height="5" fill="#000"/>
<rect x="572" y="400" width="1" height="27" fill="#000"/>
<rect x="570" y="404" width="5" height="20" fill="#000"/>
<rect x="571" y="405" width="3" height="18" fill="#fff"/>
<rect x="580" y="354" width="1" height="97" fill="#000"/>
<rect x="578" y="355" width="5" height="51" fill="#000"/>
<rect x="579" y="356" width="3" height="49" fill="#fff"/>
<rect x="588" y="317" width="1" height="40" fill="#000"/>
<rect x="586" y="334" width="5" height="23" fill="#000"/>
<rect x="587" y="335" width="3" height="21" fill="#fff"/>
<rect x="596" y="311" width="1" height="28" fill="#000"/>
<rect x="594" y="312" width="5" height="23" fill="#000"/>
<rect x="604" y="298" width="1" height="39" fill="#000"/>
<rect x="602" y="298" width="5" height="37" fill="#000"/>
<rect x="603" y="299" width="3" height="35" fill="#fff"/>
<rect x="612" y="285" width="1" height="18" fill="#000"/>
<rect x="610" y="298" width="5" height="3" fill="#000"/>
<rect x="611" y="299" width="3" height="1" fill="#fff"/>
<rect x="620" y="274" width="1" height="27" fill="#000"/>
<rect x="618" y="282" width="5" height="15" fill="#000"/>
<rect x="619" y="283" width="3" height="13" fill="#fff"/>
<rect x="628" y="272" width="1" height="59" fill="#000"/>
<rect x="626" y="276" width="5" height="5" fill="#000"/>
<rect x="627" y="277" width="3" height="3" fill="#fff"/>
<rect x="636" y="266" width="1" height="33" fill="#000"/>
<rect x="634" y="274" width="5" height="21" fill="#000"/>
<rect x="644" y="265" width="1" height="39" fill="#000"/>
<rect x="642" y="278" width="5" height="17" fill="#000"/>
<rect x="643" y="279" width="3" height="15" fill="#fff"/>
<rect x="652" y="272" width="1" height="20" fill="#000"/>
<rect x="650" y="276" width="5" height="3" fill="#000"/>
<rect x="651" y="277" width="3" height="1" fill="#fff"/>
<rect x="660" y="270" width="1" height="13" fill="#000"/>
<rect x="658" y="275" width="5" height="1" fill="#000"/>
<rect x="668" y="265" width="1" height="22" fill="#000"/>
<rect x="666" y="267" width="5" height="20" fill="#000"/>
<rect x="676" y="270" width="1" height="27" fill="#000"/>
<rect x="674" y="284" width="5" height="11" fill="#000"/>
<rect x="684" y="287" width="1" height="34" fill="#000"/>
<rect x="682" y="294" width="5" height="16" fill="#000"/>
<rect x="692" y="305" width="1" height="21" fill="#000"/>
<rect x="690" y="308" width="5" height="7" fill="#000"/>
<rect x="700" y="301" width="1" height="31" fill="#000"/>
<rect x="698" y="313" width="5" height="3" fill="#000"/>
<rect x="699" y="314" width="3" height="1" fill="#fff"/>
<rect x="708" y="305" width="1" height="32" fill="#000"/>
<rect x="706" y="313" width="5" height="9" fill="#000"/>
<rect x="716" y="315" width="1" height="34" fill="#000"/>
<rect x="714" y="330" width="5" height="18" fill="#000"/>
<rect x="724" y="312" width="1" height="48" fill="#000"/>
<rect x="722" y="341" width="5" height="8" fill="#000"/>
<rect x="723" y="342" width="3" height="6" fill="#fff"/>
<rect x="732" y="334" width="1" height="43" fill="#000"/>
<rect x="730" y="339" width="5" height="8" fill="#000"/>
<rect x="740" y="322" width="1" height="25" fill="#000"/>
<rect x="738" y="339" width="5" height="8" fill="#000"/>
<rect x="739" y="340" width="3" height="6" fill="#fff"/>
<rect x="748" y="332" width="1" height="28" fill="#000"/>
<rect x="746" y="336" width="5" height="3" fill="#000"/>
<rect x="747" y="337" width="3" height="1" fill="#fff"/>
<rect x="756" y="331" width="1" height="14" fill="#000"/>
<rect x="754" y="337" width="5" height="1" fill="#000"/>
<rect x="764" y="312" width="1" height="18" fill="#000"/>
<rect x="762" y="312" width="5" height="10" fill="#000"/>
<rect x="763" y="313" width="3" height="8" fill="#fff"/>
<rect x="772" y="294" width="1" height="30" fill="#000"/>
<rect x="770" y="314" width="5" height="3" fill="#000"/>
<rect x="780" y="304" width="1" height="31" fill="#000"/>
<rect x="778" y="314" width="5" height="3" fill="#000"/>
<rect x="779" y="315" width="3" height="1" fill="#fff"/>
<rect x="788" y="307" width="1" height="37" fill="#000"/>
<rect x="786" y="313" width="5" height="28" fill="#000"/>
<rect x="796" y="335" width="1" height="30" fill="#000"/>
<rect x="794" y="340" width="5" height="6" fill="#000"/>
<rect x="804" y="338" width="1" height="13" fill="#000"/>
<rect x="802" y="346" width="5" height="1" fill="#000"/>
<rect x="812" y="340" width="1" height="10" fill="#000"/>
<rect x="810" y="346" width="5" height="4" fill="#000"/>
<rect x="811" y="347" width="3" height="2" fill="#fff"/>
<rect x="820" y="316" width="1" height="79" fill="#000"/>
<rect x="818" y="344" width="5" height="29" fill="#000"/>
<rect x="828" y="345" width="1" height="38" fill="#000"/>
<rect x="826" y="372" width="5" height="4" fill="#000"/>
<rect x="836" y="364" width="1" height="33" fill="#000"/>
<rect x="834" y="375" width="5" height="11" fill="#000"/>
<rect x="844" y="378" width="1" height="40" fill="#000"/>
<rect x="842" y="385" width="5" height="21" fill="#000"/>
<rect x="852" y="378" width="1" height="30" fill="#000"/>
<rect x="850" y="387" width="5" height="19" fill="#000"/>
<rect x="851" y="388" width="3" height="17" fill="#fff"/>
<rect x="860" y="382" width="1" height="19" fill="#000"/>
<rect x="858" y="384" width="5" height="8" fill="#000"/>
<rect x="859" y="385" width="3" height="6" fill="#fff"/>
<rect x="868" y="348" width="1" height="33" fill="#000"/>
<rect x="866" y="361" width="5" height="20" fill="#000"/>
<rect x="867" y="362" width="3" height="18" fill="#fff"/>
<rect x="876" y="340" width="1" height="31" fill="#000"/>
<rect x="874" y="348" width="5" height="13" fill="#000"/>
<rect x="875" y="349" width="3" height="11" fill="#fff"/>
<rect x="884" y="339" width="1" height="25" fill="#000"/>
<rect x="882" y="346" width="5" height="11" fill="#000"/>
<rect x="892" y="331" width="1" height="30" fill="#000"/>
<rect x="890" y="336" width="5" height="19" fill="#000"/>
<rect x="891" y="337" width="3" height="17" fill="#fff"/>
<rect x="900" y="264" width="1" height="86" fill="#000"/>
<rect x="898" y="279" width="5" height="58" fill="#000"/>
<rect x="899" y="280" width="3" height="56" fill="#fff"/>
<rect x="908" y="249" width="1" height="23" fill="#000"/>
<rect x="906" y="250" width="5" height="12" fill="#000"/>
<rect x="907" y="251" width="3" height="10" fill="#fff"/>
<rect x="916" y="241" width="1" height="57" fill="#000"/>
<rect x="914" y="252" width="5" height="5" fill="#000"/>
<rect x="924" y="218" width="1" height="49" fill="#000"/>
<rect x="922" y="219" width="5" height="36" fill="#000"/>
<rect x="923" y="220" width="3" height="34" fill="#fff"/>
<rect x="932" y="208" width="1" height="47" fill="#000"/>
<rect x="930" y="218" width="5" height="31" fill="#000"/>
<rect x="940" y="242" width="1" height="40" fill="#000"/>
<rect x="938" y="246" width="5" height="28" fill="#000"/>
<rect x="948" y="272" width="1" height="33" fill="#000"/>
<rect x="946" y="272" width="5" height="16" fill="#000"/>
<rect x="956" y="274" width="1" height="21" fill="#000"/>
<rect x="954" y="288" width="5" height="5" fill="#000"/>
<rect x="955" y="289" width="3" height="3" fill="#fff"/>
<rect x="964" y="269" width="1" height="70" fill="#000"/>
<rect x="962" y="288" width="5" height="46" fill="#000"/>
<rect x="972" y="316" width="1" height="40" fill="#000"/>
<rect x="970" y="332" width="5" height="15" fill="#000"/>
<rect x="980" y="337" width="1" height="36" fill="#000"/>
<rect x="978" y="346" width="5" height="9" fill="#000"/>
<rect x="988" y="319" width="1" height="56" fill="#000"/>
<rect x="986" y="320" width="5" height="36" fill="#000"/>
<rect x="987" y="321" width="3" height="34" fill="#fff"/>
<rect x="996" y="316" width="1" height="17" fill="#000"/>
<rect x="994" y="321" width="5" height="11" fill="#000"/>
<rect x="1004" y="376" width="1" height="32" fill="#000"/>
<rect x="1002" y="381" width="5" height="14" fill="#000"/>
<rect x="1012" y="364" width="1" height="109" fill="#000"/>
<rect x="1010" y="396" width="5" height="77" fill="#000"/>
<rect x="1020" y="436" width="1" height="57" fill="#000"/>
<rect x="1018" y="436" width="5" height="37" fill="#000"/>
<rect x="1019" y="437" width="3" height="35" fill="#fff"/>
<rect x="1028" y="425" width="1" height="25" fill="#000"/>
<rect x="1026" y="436" width="5" height="5" fill="#000"/>
<rect x="1036" y="406" width="1" height="38" fill="#000"/>
<rect x="1034" y="410" width="5" height="31" fill="#000"/>
<rect x="1035" y="411" width="3" height="29" fill="#fff"/>
<rect x="1044" y="396" width="1" height="18" fill="#000"/>
<rect x="1042" y="408" width="5" height="3" fill="#000"/>
<rect x="1043" y="409" width="3" height="1" fill="#fff"/>
<rect x="1052" y="378" width="1" height="19" fill="#000"/>
<rect x="1050" y="380" width="5" height="16" fill="#000"/>
<rect x="1051" y="381" width="3" height="14" fill="#fff"/>
<rect x="1060" y="342" width="1" height="68" fill="#000"/>
<rect x="1058" y="349" width="5" height="30" fill="#000"/>
<rect x="1059" y="350" width="3" height="28" fill="#fff"/>
<rect x="1068" y="332" width="1" height="38" fill="#000"/>
<rect x="1066" y="351" width="5" height="1" fill="#000"/>
<rect x="1076" y="339" width="1" height="18" fill="#000"/>
<rect x="1074" y="352" width="5" height="1" fill="#000"/>
<rect x="1084" y="313" width="1" height="48" fill="#000"/>
<rect x="1082" y="317" width="5" height="35" fill="#000"/>
<rect x="1083" y="318" width="3" height="33" fill="#fff"/>
<rect x="1092" y="308" width="1" height="13" fill="#000"/>
<rect x="1090" y="317" width="5" height="4" fill="#000"/>
<rect x="1100" y="313" width="1" height="18" fill="#000"/>
<rect x="1098" y="318" width="5" height="9" fill="#000"/>
<rect x="1108" y="315" width="1" height="43" fill="#000"/>
<rect x="1106" y="325" width="5" height="14" fill="#000"/>
<rect x="1116" y="334" width="1" height="30" fill="#000"/>
<rect x="1114" y="337" width="5" height="10" fill="#000"/>
<rect x="1124" y="337" width="1" height="18" fill="#000"/>
<rect x="1122" y="337" width="5" height="10" fill="#000"/>
<rect x="1123" y="338" width="3" height="8" fill="#fff"/>
<rect x="1132" y="306" width="1" height="40" fill="#000"/>
<rect x="1130" y="310" width="5" height="30" fill="#000"/>
<rect x="1131" y="311" width="3" height="28" fill="#fff"/>
<rect x="1140" y="308" width="1" height="11" fill="#000"/>
<rect x="1138" y="308" width="5" height="5" fill="#000"/>
<rect x="1139" y="309" width="3" height="3" fill="#fff"/>
<rect x="1148" y="299" width="1" height="12" fill="#000"/>
<rect x="1146" y="310" width="5" height="1" fill="#000"/>
<rect x="1156" y="309" width="1" height="18" fill="#000"/>
<rect x="1154" y="310" width="5" height="1" fill="#000"/>
<rect x="1164" y="291" width="1" height="23" fill="#000"/>
<rect x="1162" y="297" width="5" height="17" fill="#000"/>
<rect x="1163" y="298" width="3" height="15" fill="#fff"/>
<rect x="1172" y="286" width="1" height="21" fill="#000"/>
<rect x="1170" y="294" width="5" height="4" fill="#000"/>
<rect x="1171" y="295" width="3" height="2" fill="#fff"/>
<rect x="1180" y="274" width="1" height="23" fill="#000"/>
<rect x="1178" y="275" width="5" height="21" fill="#000"/>
<rect x="1179" y="276" width="3" height="19" fill="#fff"/>
<rect x="1188" y="271" width="1" height="9" fill="#000"/>
<rect x="1186" y="274" width="5" height="1" fill="#000"/>
<rect x="1196" y="277" width="1" height="9" fill="#000"/>
<rect x="1194" y="277" width="5" height="8" fill="#000"/>
<rect x="1204" y="276" width="1" height="15" fill="#000"/>
<rect x="1202" y="286" width="5" height="3" fill="#000"/>
<rect x="1203" y="287" width="3" height="1" fill="#fff"/>
<rect x="1212" y="281" width="1" height="26" fill="#000"/>
<rect x="1210" y="285" width="5" height="12" fill="#000"/>
<rect x="1220" y="284" width="1" height="19" fill="#000"/>
<rect x="1218" y="284" width="5" height="15" fill="#000"/>
<rect x="1228" y="284" width="1" height="21" fill="#000"/>
<rect x="1226" y="284" width="5" height="7" fill="#000"/>
<rect x="1236" y="289" width="1" height="15" fill="#000"/>
<rect x="1234" y="291" width="5" height="12" fill="#000"/>
<rect x="1244" y="263" width="1" height="32" fill="#000"/>
<rect x="1242" y="272" width="5" height="13" fill="#000"/>
<rect x="1252" y="278" width="1" height="43" fill="#000"/>
<rect x="1250" y="284" width="5" height="25" fill="#000"/>
<rect x="1260" y="288" width="1" height="28" fill="#000"/>
<rect x="1258" y="289" width="5" height="21" fill="#000"/>
<rect x="1259" y="290" width="3" height="19" fill="#fff"/>
<rect x="1268" y="272" width="1" height="25" fill="#000"/>
<rect x="1266" y="278" width="5" height="13" fill="#000"/>
<rect x="1267" y="279" width="3" height="11" fill="#fff"/>
<rect x="1276" y="246" width="1" height="36" fill="#000"/>
<rect x="1274" y="247" width="5" height="31" fill="#000"/>
<rect x="1275" y="248" width="3" height="29" fill="#fff"/>
<rect x="1284" y="241" width="1" height="9" fill="#000"/>
<rect x="1282" y="246" width="5" height="4" fill="#000"/>
<rect x="1292" y="245" width="1" height="10" fill="#000"/>
<rect x="1290" y="249" width="5" height="6" fill="#000"/>
<rect x="1300" y="224" width="1" height="53" fill="#000"/>
<rect x="1298" y="251" width="5" height="4" fill="#000"/>
<rect x="1299" y="252" width="3" height="2" fill="#fff"/>
<rect x="1308" y="236" width="1" height="19" fill="#000"/>
<rect x="1306" y="242" width="5" height="12" fill="#000"/>
<rect x="1307" y="243" width="3" height="10" fill="#fff"/>
<rect x="1316" y="233" width="1" height="15" fill="#000"/>
<rect x="1314" y="236" width="5" height="5" fill="#000"/>
<rect x="1315" y="237" width="3" height="3" fill="#fff"/>
<rect x="1324" y="231" width="1" height="21" fill="#000"/>
<rect x="1322" y="236" width="5" height="12" fill="#000"/>
<rect x="1332" y="240" width="1" height="14" fill="#000"/>
<rect x="1330" y="240" width="5" height="8" fill="#000"/>
<rect x="1331" y="241" width="3" height="6" fill="#fff"/>
<rect x="1340" y="238" width="1" height="17" fill="#000"/>
<rect x="1338" y="243" width="5" height="8" fill="#000"/>
<rect x="1339" y="244" width="3" height="6" fill="#fff"/>
<rect x="1348" y="222" width="1" height="80" fill="#000"/>
<rect x="1346" y="245" width="5" height="26" fill="#000"/>
<rect x="1356" y="263" width="1" height="18" fill="#000"/>
<rect x="1354" y="266" width="5" height="5" fill="#000"/>
<rect x="1355" y="267" width="3" height="3" fill="#fff"/>
<rect x="1364" y="267" width="1" height="25" fill="#000"/>
<rect x="1362" y="267" width="5" height="16" fill="#000"/>
<rect x="1372" y="276" width="1" height="27" fill="#000"/>
<rect x="1370" y="277" width="5" height="6" fill="#000"/>
<rect x="1371" y="278" width="3" height="4" fill="#fff"/>
<rect x="1380" y="267" width="1" height="13" fill="#000"/>
<rect x="1378" y="270" width="5" height="9" fill="#000"/>
<rect x="1379" y="271" width="3" height="7" fill="#fff"/>
<rect x="277.5" y="558.5" width="61" height="18" fill="#fff" stroke="#ff0000" stroke-width="1"/>
<text x="279.6" y="573.7" class="lb" textLength="57.4" lengthAdjust="spacingAndGlyphs">27360.6</text>
<rect x="339" y="567" width="9" height="1" fill="#ff0000"/>
<rect x="861.5" y="199.5" width="61" height="18" fill="#fff" stroke="#ff0000" stroke-width="1"/>
<text x="863.6" y="214.7" class="lb" textLength="57.4" lengthAdjust="spacingAndGlyphs">29143.5</text>
<rect x="923" y="208" width="9" height="1" fill="#ff0000"/>
<rect x="932" y="208" width="1" height="8" fill="#ff0000"/>
<rect x="949.5" y="482.5" width="61" height="18" fill="#fff" stroke="#ff0000" stroke-width="1"/>
<text x="951.6" y="497.7" class="lb" textLength="57.4" lengthAdjust="spacingAndGlyphs">27739.4</text>
<rect x="1011" y="491" width="9" height="1" fill="#ff0000"/>
<rect x="1277.5" y="213.5" width="61" height="18" fill="#fff" stroke="#ff0000" stroke-width="1"/>
<text x="1279.6" y="228.7" class="lb" textLength="57.4" lengthAdjust="spacingAndGlyphs">29074.1</text>
<rect x="1339" y="222" width="9" height="1" fill="#ff0000"/>
<rect x="1339.5" y="220.5" width="2" height="3" fill="#fff" stroke="#ff0000" stroke-width="1"/>
<rect x="1093.5" y="251.5" width="61" height="18" fill="#fff" stroke="#ff0000" stroke-width="1"/>
<text x="1095.6" y="266.7" class="lb" textLength="57.4" lengthAdjust="spacingAndGlyphs">28883.9</text>
<rect x="1155" y="260" width="10" height="1" fill="#ff0000"/>
<rect x="1258" y="254" width="194" height="9" fill="#00ff00"/>
<line x1="1326" y1="225" x2="1372.0" y2="293.5" stroke="#ff0000" stroke-width="3.5" stroke-linecap="round" shape-rendering="auto"/>
<polygon points="1377,301 1366.7,294.7 1375.0,289.1" fill="#ff0000" shape-rendering="auto"/>
<text x="3" y="39" class="tt" xml:space="preserve">JPN225-,H4  28800.0 28852.5 28797.5 28837.5</text>
<defs>
<linearGradient id="gh" x1="0" y1="0" x2="0" y2="1"><stop offset="0" stop-color="#f85a5a"/><stop offset="1" stop-color="#dc2a2a"/></linearGradient>
<linearGradient id="gp" x1="0" y1="0" x2="0" y2="1"><stop offset="0" stop-color="#dc3030"/><stop offset="1" stop-color="#b00606"/></linearGradient>
<linearGradient id="gb" x1="0" y1="0" x2="0" y2="1"><stop offset="0" stop-color="#f4f4f4"/><stop offset="0.45" stop-color="#ececec"/><stop offset="0.5" stop-color="#dcdcdc"/><stop offset="1" stop-color="#d0d0d0"/></linearGradient>
</defs>
<rect x="0" y="45" width="211" height="59" fill="#fff"/>
<rect x="0" y="47" width="43" height="25" fill="#b80000"/>
<rect x="0" y="48" width="42" height="23" fill="url(#gh)"/>
<rect x="0" y="70" width="39" height="1" fill="#7a0000"/>
<rect x="158" y="47" width="53" height="25" fill="#b80000"/>
<rect x="159" y="48" width="51" height="23" fill="url(#gh)"/>
<rect x="162" y="70" width="45" height="1" fill="#7a0000"/>
<rect x="0" y="71" width="100" height="33" fill="#b80000"/>
<rect x="0" y="72" width="99" height="31" fill="url(#gp)"/>
<rect x="102" y="71" width="109" height="33" fill="#b80000"/>
<rect x="103" y="72" width="107" height="31" fill="url(#gp)"/>
<rect x="45" y="47" width="112" height="22" fill="#a9acb3"/>
<rect x="46" y="48" width="110" height="20" fill="#fff"/>
<rect x="47" y="49" width="18" height="17" fill="url(#gb)"/>
<rect x="66" y="48" width="1" height="20" fill="#a9acb3"/>
<rect x="134" y="48" width="1" height="20" fill="#a9acb3"/>
<rect x="136" y="49" width="18" height="17" fill="url(#gb)"/>
<polygon points="52.5,56 58.5,56 55.5,59" fill="#4a64c4" shape-rendering="auto"/>
<polygon points="142,60 148,60 145,57" fill="#4a64c4" shape-rendering="auto"/>
<text x="108" y="62" class="pt" textLength="22" lengthAdjust="spacingAndGlyphs">1.00</text>
<text x="3.4" y="63" class="hd" textLength="25.3" lengthAdjust="spacingAndGlyphs">SELL</text>
<text x="171.8" y="63" class="hd" textLength="23" lengthAdjust="spacingAndGlyphs">BUY</text>
<text x="7" y="99" class="bp">28836</text>
<rect x="46" y="95" width="4" height="4" fill="#fff"/>
<text x="52" y="99" class="bz">0</text>
<text x="117" y="99" class="bp">28859</text>
<rect x="157.5" y="95" width="4" height="4" fill="#fff"/>
<text x="163" y="99" class="bz">0</text>

</g>
<g clip-path="url(#cmacd)">
<rect x="60" y="643" width="1" height="3" fill="#c0c0c0"/>
<rect x="68" y="638" width="1" height="8" fill="#c0c0c0"/>
<rect x="76" y="637" width="1" height="9" fill="#c0c0c0"/>
<rect x="84" y="636" width="1" height="10" fill="#c0c0c0"/>
<rect x="92" y="639" width="1" height="7" fill="#c0c0c0"/>
<rect x="100" y="638" width="1" height="8" fill="#c0c0c0"/>
<rect x="108" y="639" width="1" height="7" fill="#c0c0c0"/>
<rect x="116" y="639" width="1" height="7" fill="#c0c0c0"/>
<rect x="124" y="640" width="1" height="6" fill="#c0c0c0"/>
<rect x="132" y="641" width="1" height="5" fill="#c0c0c0"/>
<rect x="140" y="642" width="1" height="4" fill="#c0c0c0"/>
<rect x="148" y="645" width="1" height="4" fill="#c0c0c0"/>
<rect x="156" y="645" width="1" height="11" fill="#c0c0c0"/>
<rect x="164" y="645" width="1" height="18" fill="#c0c0c0"/>
<rect x="172" y="645" width="1" height="18" fill="#c0c0c0"/>
<rect x="180" y="645" width="1" height="19" fill="#c0c0c0"/>
<rect x="188" y="645" width="1" height="19" fill="#c0c0c0"/>
<rect x="196" y="645" width="1" height="16" fill="#c0c0c0"/>
<rect x="204" y="645" width="1" height="15" fill="#c0c0c0"/>
<rect x="212" y="645" width="1" height="14" fill="#c0c0c0"/>
<rect x="220" y="645" width="1" height="13" fill="#c0c0c0"/>
<rect x="228" y="645" width="1" height="12" fill="#c0c0c0"/>
<rect x="236" y="645" width="1" height="16" fill="#c0c0c0"/>
<rect x="244" y="645" width="1" height="30" fill="#c0c0c0"/>
<rect x="252" y="645" width="1" height="44" fill="#c0c0c0"/>
<rect x="260" y="645" width="1" height="56" fill="#c0c0c0"/>
<rect x="268" y="645" width="1" height="72" fill="#c0c0c0"/>
<rect x="276" y="645" width="1" height="92" fill="#c0c0c0"/>
<rect x="284" y="645" width="1" height="94" fill="#c0c0c0"/>
<rect x="292" y="645" width="1" height="90" fill="#c0c0c0"/>
<rect x="300" y="645" width="1" height="90" fill="#c0c0c0"/>
<rect x="308" y="645" width="1" height="88" fill="#c0c0c0"/>
<rect x="316" y="645" width="1" height="84" fill="#c0c0c0"/>
<rect x="324" y="645" width="1" height="79" fill="#c0c0c0"/>
<rect x="332" y="645" width="1" height="72" fill="#c0c0c0"/>
<rect x="340" y="645" width="1" height="67" fill="#c0c0c0"/>
<rect x="348" y="645" width="1" height="82" fill="#c0c0c0"/>
<rect x="356" y="645" width="1" height="90" fill="#c0c0c0"/>
<rect x="364" y="645" width="1" height="96" fill="#c0c0c0"/>
<rect x="372" y="645" width="1" height="99" fill="#c0c0c0"/>
<rect x="380" y="645" width="1" height="97" fill="#c0c0c0"/>
<rect x="388" y="645" width="1" height="91" fill="#c0c0c0"/>
<rect x="396" y="645" width="1" height="83" fill="#c0c0c0"/>
<rect x="404" y="645" width="1" height="79" fill="#c0c0c0"/>
<rect x="412" y="645" width="1" height="80" fill="#c0c0c0"/>
<rect x="420" y="645" width="1" height="82" fill="#c0c0c0"/>
<rect x="428" y="645" width="1" height="84" fill="#c0c0c0"/>
<rect x="436" y="645" width="1" height="80" fill="#c0c0c0"/>
<rect x="444" y="645" width="1" height="75" fill="#c0c0c0"/>
<rect x="452" y="645" width="1" height="72" fill="#c0c0c0"/>
<rect x="460" y="645" width="1" height="67" fill="#c0c0c0"/>
<rect x="468" y="645" width="1" height="60" fill="#c0c0c0"/>
<rect x="476" y="645" width="1" height="56" fill="#c0c0c0"/>
<rect x="484" y="645" width="1" height="52" fill="#c0c0c0"/>
<rect x="492" y="645" width="1" height="46" fill="#c0c0c0"/>
<rect x="500" y="645" width="1" height="43" fill="#c0c0c0"/>
<rect x="508" y="645" width="1" height="44" fill="#c0c0c0"/>
<rect x="516" y="645" width="1" height="45" fill="#c0c0c0"/>
<rect x="524" y="645" width="1" height="38" fill="#c0c0c0"/>
<rect x="532" y="645" width="1" height="34" fill="#c0c0c0"/>
<rect x="540" y="645" width="1" height="34" fill="#c0c0c0"/>
<rect x="548" y="645" width="1" height="30" fill="#c0c0c0"/>
<rect x="556" y="645" width="1" height="22" fill="#c0c0c0"/>
<rect x="564" y="645" width="1" height="16" fill="#c0c0c0"/>
<rect x="572" y="645" width="1" height="10" fill="#c0c0c0"/>
<rect x="580" y="645" width="1" height="2" fill="#c0c0c0"/>
<rect x="588" y="635" width="1" height="11" fill="#c0c0c0"/>
<rect x="596" y="626" width="1" height="20" fill="#c0c0c0"/>
<rect x="604" y="618" width="1" height="28" fill="#c0c0c0"/>
<rect x="612" y="611" width="1" height="35" fill="#c0c0c0"/>
<rect x="620" y="604" width="1" height="42" fill="#c0c0c0"/>
<rect x="628" y="599" width="1" height="47" fill="#c0c0c0"/>
<rect x="636" y="597" width="1" height="49" fill="#c0c0c0"/>
<rect x="644" y="594" width="1" height="52" fill="#c0c0c0"/>
<rect x="652" y="593" width="1" height="53" fill="#c0c0c0"/>
<rect x="660" y="592" width="1" height="54" fill="#c0c0c0"/>
<rect x="668" y="593" width="1" height="53" fill="#c0c0c0"/>
<rect x="676" y="597" width="1" height="49" fill="#c0c0c0"/>
<rect x="684" y="599" width="1" height="47" fill="#c0c0c0"/>
<rect x="692" y="603" width="1" height="43" fill="#c0c0c0"/>
<rect x="700" y="607" width="1" height="39" fill="#c0c0c0"/>
<rect x="708" y="611" width="1" height="35" fill="#c0c0c0"/>
<rect x="716" y="617" width="1" height="29" fill="#c0c0c0"/>
<rect x="724" y="622" width="1" height="24" fill="#c0c0c0"/>
<rect x="732" y="626" width="1" height="20" fill="#c0c0c0"/>
<rect x="740" y="629" width="1" height="17" fill="#c0c0c0"/>
<rect x="748" y="630" width="1" height="16" fill="#c0c0c0"/>
<rect x="756" y="632" width="1" height="14" fill="#c0c0c0"/>
<rect x="764" y="632" width="1" height="14" fill="#c0c0c0"/>
<rect x="772" y="632" width="1" height="14" fill="#c0c0c0"/>
<rect x="780" y="631" width="1" height="15" fill="#c0c0c0"/>
<rect x="788" y="635" width="1" height="11" fill="#c0c0c0"/>
<rect x="796" y="638" width="1" height="8" fill="#c0c0c0"/>
<rect x="804" y="640" width="1" height="6" fill="#c0c0c0"/>
<rect x="812" y="642" width="1" height="4" fill="#c0c0c0"/>
<rect x="828" y="645" width="1" height="5" fill="#c0c0c0"/>
<rect x="836" y="645" width="1" height="7" fill="#c0c0c0"/>
<rect x="844" y="645" width="1" height="13" fill="#c0c0c0"/>
<rect x="852" y="645" width="1" height="14" fill="#c0c0c0"/>
<rect x="860" y="645" width="1" height="16" fill="#c0c0c0"/>
<rect x="868" y="645" width="1" height="14" fill="#c0c0c0"/>
<rect x="876" y="645" width="1" height="11" fill="#c0c0c0"/>
<rect x="884" y="645" width="1" height="10" fill="#c0c0c0"/>
<rect x="892" y="645" width="1" height="7" fill="#c0c0c0"/>
<rect x="900" y="643" width="1" height="3" fill="#c0c0c0"/>
<rect x="908" y="634" width="1" height="12" fill="#c0c0c0"/>
<rect x="916" y="628" width="1" height="18" fill="#c0c0c0"/>
<rect x="924" y="619" width="1" height="27" fill="#c0c0c0"/>
<rect x="932" y="615" width="1" height="31" fill="#c0c0c0"/>
<rect x="940" y="615" width="1" height="31" fill="#c0c0c0"/>
<rect x="948" y="617" width="1" height="29" fill="#c0c0c0"/>
<rect x="956" y="619" width="1" height="27" fill="#c0c0c0"/>
<rect x="964" y="625" width="1" height="21" fill="#c0c0c0"/>
<rect x="972" y="632" width="1" height="14" fill="#c0c0c0"/>
<rect x="980" y="638" width="1" height="8" fill="#c0c0c0"/>
<rect x="988" y="639" width="1" height="7" fill="#c0c0c0"/>
<rect x="996" y="641" width="1" height="5" fill="#c0c0c0"/>
<rect x="1012" y="645" width="1" height="18" fill="#c0c0c0"/>
<rect x="1020" y="645" width="1" height="26" fill="#c0c0c0"/>
<rect x="1028" y="645" width="1" height="31" fill="#c0c0c0"/>
<rect x="1036" y="645" width="1" height="32" fill="#c0c0c0"/>
<rect x="1044" y="645" width="1" height="33" fill="#c0c0c0"/>
<rect x="1052" y="645" width="1" height="30" fill="#c0c0c0"/>
<rect x="1060" y="645" width="1" height="24" fill="#c0c0c0"/>
<rect x="1068" y="645" width="1" height="20" fill="#c0c0c0"/>
<rect x="1076" y="645" width="1" height="16" fill="#c0c0c0"/>
<rect x="1084" y="645" width="1" height="10" fill="#c0c0c0"/>
<rect x="1092" y="645" width="1" height="5" fill="#c0c0c0"/>
<rect x="1100" y="645" width="1" height="2" fill="#c0c0c0"/>
<rect x="1108" y="645" width="1" height="2" fill="#c0c0c0"/>
<rect x="1116" y="645" width="1" height="2" fill="#c0c0c0"/>
<rect x="1124" y="645" width="1" height="2" fill="#c0c0c0"/>
<rect x="1132" y="641" width="1" height="5" fill="#c0c0c0"/>
<rect x="1140" y="638" width="1" height="8" fill="#c0c0c0"/>
<rect x="1148" y="636" width="1" height="10" fill="#c0c0c0"/>
<rect x="1156" y="634" width="1" height="12" fill="#c0c0c0"/>
<rect x="1164" y="632" width="1" height="14" fill="#c0c0c0"/>
<rect x="1172" y="630" width="1" height="16" fill="#c0c0c0"/>
<rect x="1180" y="627" width="1" height="19" fill="#c0c0c0"/>
<rect x="1188" y="624" width="1" height="22" fill="#c0c0c0"/>
<rect x="1196" y="624" width="1" height="22" fill="#c0c0c0"/>
<rect x="1204" y="624" width="1" height="22" fill="#c0c0c0"/>
<rect x="1212" y="626" width="1" height="20" fill="#c0c0c0"/>
<rect x="1220" y="626" width="1" height="20" fill="#c0c0c0"/>
<rect x="1228" y="627" width="1" height="19" fill="#c0c0c0"/>
<rect x="1236" y="629" width="1" height="17" fill="#c0c0c0"/>
<rect x="1244" y="629" width="1" height="17" fill="#c0c0c0"/>
<rect x="1252" y="631" width="1" height="15" fill="#c0c0c0"/>
<rect x="1260" y="631" width="1" height="15" fill="#c0c0c0"/>
<rect x="1268" y="629" width="1" height="17" fill="#c0c0c0"/>
<rect x="1276" y="626" width="1" height="20" fill="#c0c0c0"/>
<rect x="1284" y="625" width="1" height="21" fill="#c0c0c0"/>
<rect x="1292" y="625" width="1" height="21" fill="#c0c0c0"/>
<rect x="1300" y="624" width="1" height="22" fill="#c0c0c0"/>
<rect x="1308" y="623" width="1" height="23" fill="#c0c0c0"/>
<rect x="1316" y="621" width="1" height="25" fill="#c0c0c0"/>
<rect x="1324" y="621" width="1" height="25" fill="#c0c0c0"/>
<rect x="1332" y="621" width="1" height="25" fill="#c0c0c0"/>
<rect x="1340" y="621" width="1" height="25" fill="#c0c0c0"/>
<rect x="1348" y="626" width="1" height="20" fill="#c0c0c0"/>
<rect x="1356" y="629" width="1" height="17" fill="#c0c0c0"/>
<rect x="1364" y="631" width="1" height="15" fill="#c0c0c0"/>
<rect x="1372" y="634" width="1" height="12" fill="#c0c0c0"/>
<rect x="1380" y="634" width="1" height="12" fill="#c0c0c0"/>
<polyline points="0.0,644.9 27.2,646.3 54.3,646.0 81.5,642.2 108.6,639.2 133.0,637.3 144.0,638.7 163.0,644.1 176.5,648.2 190.0,654.1 217.2,660.4 239.0,661.8 252.5,665.3 266.0,672.6 277.0,684.8 293.3,702.5 306.8,718.8 317.7,725.6 331.3,729.6 353.0,727.7 380.2,731.0 407.3,732.4 421.0,732.9 434.5,729.6 456.0,722.0 483.2,716.0 510.3,702.5 537.5,688.9 564.6,678.0 578.2,671.3 591.8,660.4 605.4,649.5 619.0,636.0 632.5,622.4 646.0,611.5 659.7,603.4 673.2,597.9 686.8,595.2 700.4,596.0 714.0,599.3 727.5,604.7 741.1,611.5 754.7,617.8 768.3,624.3 781.9,627.8 795.4,631.3 809.0,633.8 822.6,636.8 836.2,640.0 844.4,643.5 852.4,646.2 860.4,649.7 868.5,651.5 876.4,652.8 884.3,654.3 892.3,655.3 900.5,654.5 908.5,652.8 916.5,649.1 924.5,645.2 932.4,638.4 940.9,634.5 955.4,625.8 969.9,622.1 987.2,622.9 998.8,627.0 1013.2,636.5 1027.7,646.6 1042.2,656.8 1056.6,664.6 1071.1,668.9 1085.6,669.2 1100.0,664.0 1114.5,656.8 1129.0,650.1 1143.4,643.7 1158.0,640.9 1172.3,637.4 1186.8,633.6 1201.3,630.7 1215.7,626.4 1230.2,625.8 1259.1,626.4 1273.6,627.8 1302.5,627.0 1317.0,625.0 1331.4,622.1 1346.0,621.2 1360.4,621.2 1375.0,623.5 1380.0,625.8" fill="none" stroke="#ff0000" stroke-width="1" stroke-dasharray="3,3"/>
<text x="1" y="595" class="tt">ACD(12,26,9) 46.36 82.22</text>
<line x1="1302.5" y1="619" x2="1377.2" y2="634.7" stroke="#ff0000" stroke-width="3.7" stroke-linecap="round" shape-rendering="auto"/>
<polygon points="1386,636.5 1374.2,639.1 1376.3,629.3" fill="#ff0000" shape-rendering="auto"/>
</g>
<g clip-path="url(#crsi)">
<line x1="0" y1="790.5" x2="1647" y2="790.5" stroke="#c0c0c0" stroke-width="1" stroke-dasharray="3,3"/>
<line x1="0" y1="841.5" x2="1647" y2="841.5" stroke="#c0c0c0" stroke-width="1" stroke-dasharray="3,3"/>
<line x1="0" y1="902.5" x2="1647" y2="902.5" stroke="#c0c0c0" stroke-width="1" stroke-dasharray="3,3"/>
<polyline points="-4.0,840.0 4.0,828.9 12.0,844.6 20.0,843.3 28.0,841.9 36.0,841.4 44.0,843.3 52.0,833.7 60.0,828.3 68.0,818.8 76.0,831.0 84.0,828.9 92.0,840.5 100.0,837.0 108.0,840.5 116.0,830.5 124.0,846.8 132.0,841.4 140.0,843.3 148.0,865.0 156.0,868.5 164.0,872.3 172.0,856.8 180.0,853.3 188.0,852.2 196.0,844.1 204.0,848.7 212.0,847.3 220.0,848.7 228.0,847.3 236.0,860.9 244.0,888.6 252.0,892.1 260.0,894.8 268.0,901.6 276.0,905.7 284.0,866.9 292.0,857.6 300.0,864.2 308.0,860.9 316.0,857.6 324.0,858.2 332.0,849.5 340.0,854.1 348.0,874.5 356.0,871.2 364.0,872.3 372.0,871.2 380.0,865.0 388.0,856.0 396.0,852.2 404.0,856.8 412.0,865.0 420.0,866.3 428.0,868.5 436.0,858.2 444.0,859.5 452.0,858.2 460.0,854.1 468.0,850.0 476.0,853.3 484.0,854.1 492.0,848.7 500.0,851.4 508.0,859.5 516.0,860.9 524.0,842.4 532.0,846.0 540.0,852.8 548.0,844.6 556.0,835.9 564.0,836.5 572.0,831.6 580.0,822.9 588.0,819.6 596.0,819.6 604.0,813.4 612.0,813.4 620.0,810.7 628.0,809.3 636.0,816.1 644.0,813.4 652.0,812.6 660.0,812.6 668.0,816.9 676.0,820.2 684.0,827.0 692.0,828.9 700.0,828.9 708.0,833.7 716.0,844.1 724.0,841.4 732.0,844.1 740.0,840.5 748.0,839.7 756.0,840.5 764.0,828.3 772.0,831.0 780.0,828.9 788.0,844.1 796.0,846.0 804.0,847.3 812.0,846.8 820.0,858.7 828.0,860.4 836.0,863.6 844.0,872.3 852.0,860.4 860.0,858.2 868.0,846.0 876.0,838.6 884.0,842.4 892.0,832.4 900.0,812.0 908.0,806.1 916.0,808.5 924.0,801.3 932.0,814.3 940.0,825.9 948.0,830.8 956.0,832.5 964.0,848.1 972.0,851.9 980.0,853.9 988.0,841.8 996.0,845.3 1004.0,860.6 1012.0,877.1 1020.0,864.9 1028.0,866.4 1036.0,856.2 1044.0,856.2 1052.0,847.0 1060.0,839.5 1068.0,839.5 1076.0,841.2 1084.0,830.2 1092.0,831.7 1100.0,833.1 1108.0,836.6 1116.0,840.3 1124.0,837.4 1132.0,829.6 1140.0,828.8 1148.0,828.8 1156.0,829.6 1164.0,824.4 1172.0,823.0 1180.0,817.2 1188.0,816.3 1196.0,823.0 1204.0,823.8 1212.0,830.2 1220.0,830.2 1228.0,827.3 1236.0,835.4 1244.0,826.7 1252.0,840.3 1260.0,830.8 1268.0,826.7 1276.0,815.2 1284.0,816.3 1292.0,821.0 1300.0,818.6 1308.0,814.3 1316.0,814.3 1324.0,821.5 1332.0,818.0 1340.0,821.5 1348.0,837.4 1356.0,837.4 1364.0,845.3 1372.0,841.8 1380.0,838.9" fill="none" stroke="#1e90ff" stroke-width="1"/>
<text x="0" y="767" class="tt">SI(14) 52.0266</text>
<line x1="1298.5" y1="808" x2="1373.6" y2="838.1" stroke="#ff0000" stroke-width="3.7" stroke-linecap="round" shape-rendering="auto"/>
<polygon points="1382,841.4 1369.9,842.0 1373.6,832.7" fill="#ff0000" shape-rendering="auto"/>
</g>
</svg>
</body></html>
